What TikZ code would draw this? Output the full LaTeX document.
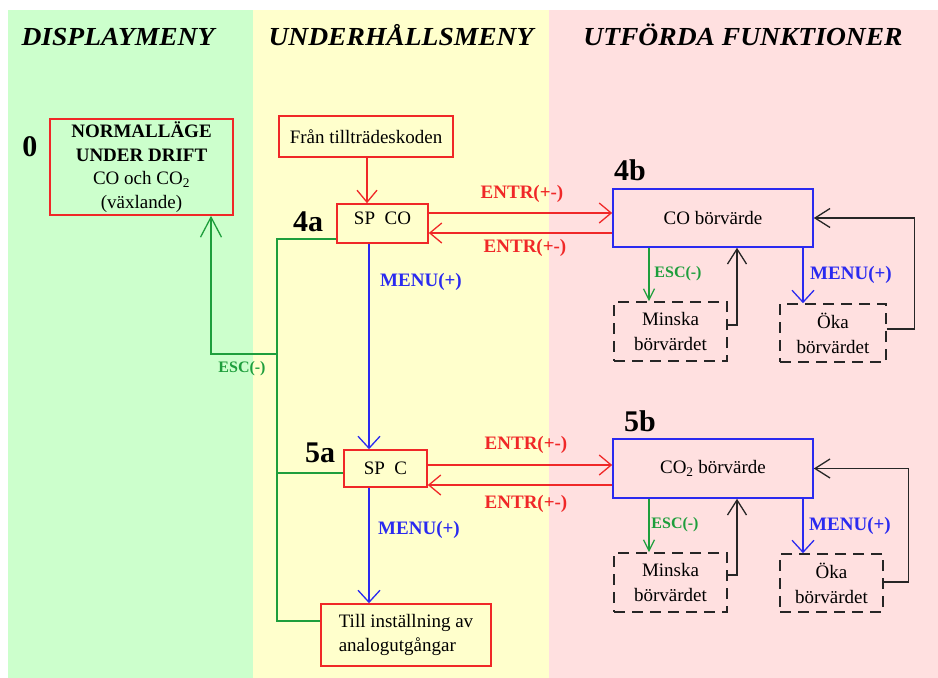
\documentclass[tikz,border=0pt]{standalone}
\usepackage{fontspec}
\setmainfont{Liberation Serif}
\usepackage{xcolor}
\usepackage{graphicx}
\usepackage{tikz}
\usetikzlibrary{arrows.meta}
\definecolor{fondoverde}{HTML}{CCFFCC}
\definecolor{fondoamarillo}{HTML}{FFFFCC}
\definecolor{fondorosa}{HTML}{FFE0E0}
\definecolor{rojo}{HTML}{F02828}
\definecolor{azul}{HTML}{2A2AF0}
\definecolor{verde}{HTML}{1E9E3C}
\newcommand{\titulo}[1]{\scalebox{1.06}[1]{\fontsize{26}{28}\selectfont\bfseries\itshape #1}}

\begin{document}
\begin{tikzpicture}[x=1pt,y=-1pt,
   caja/.style={draw=rojo,line width=1.6pt,inner sep=0pt,align=center,font=\fontsize{19}{24}\selectfont},
   cajaazul/.style={draw=azul,line width=1.6pt,inner sep=0pt,font=\fontsize{19}{24}\selectfont},
   cajatrazos/.style={draw=black!85,line width=1.6pt,dash pattern=on 11pt off 7pt,inner sep=0pt,align=center,font=\fontsize{19}{25}\selectfont},
   numero/.style={font=\fontsize{30}{30}\selectfont\bfseries},
   etiq/.style={font=\fontsize{19}{19}\selectfont\bfseries},
   etiqesc/.style={text=verde,font=\fontsize{16}{16}\selectfont\bfseries},
   flecharoja/.style={draw=rojo,line width=1.3pt,-{Straight Barb[length=12pt,width=20pt]}},
   flechaazul/.style={draw=azul,line width=1.3pt,-{Straight Barb[length=12pt,width=22pt]}},
   flechanegra/.style={draw=black!85,line width=1.3pt,-{Straight Barb[length=15pt,width=19pt]}},
   flechaverde/.style={draw=verde,line width=1.3pt,-{Straight Barb[length=11pt,width=11pt]}},
   lineaverde/.style={draw=verde,line width=1.3pt}]
   \useasboundingbox (0,0) rectangle (938,678);
   %fondos
   \fill[fondoverde] (8,10) rectangle (253,678);
   \fill[fondoamarillo] (253,10) rectangle (549,678);
   \fill[fondorosa] (549,10) rectangle (938,678);
   %titulos
   \node[anchor=base] (tdisp) at (118,45) {\titulo{DISPLAYMENY}};
   \node[anchor=base] (tunder) at (401,45) {\titulo{UNDERHÅLLSMENY}};
   \node[anchor=base] (tutf) at (743,45) {\titulo{UTFÖRDA FUNKTIONER}};
   %cajas
   \node[caja,minimum width=183pt,minimum height=96pt,font=\fontsize{19}{23.5}\selectfont] (normal) at (141.5,167)
      {\textbf{NORMALLÄGE}\\\textbf{UNDER DRIFT}\\CO och CO\textsubscript{2}\\(växlande)};
   \node[caja,minimum width=174pt,minimum height=41pt] (fran) at (366,136.5) {Från tillträdeskoden};
   \node[caja,minimum width=91pt,minimum height=39pt,text depth=10pt] (spco) at (382.5,223.5) {SP\ \ CO};
   \node[caja,minimum width=83pt,minimum height=37pt] (spc) at (385.5,468.5) {SP\ \ C};
   \node[caja,minimum width=170pt,minimum height=62pt,align=left] (till) at (406,635) {Till inställning av\\analogutgångar};
   \node[cajaazul,minimum width=200pt,minimum height=58pt] (bor4) at (713,218) {CO börvärde};
   \node[cajaazul,minimum width=200pt,minimum height=59pt] (bor5) at (713,468.5) {CO\textsubscript{2} börvärde};
   \node[cajatrazos,minimum width=113pt,minimum height=59pt] (minska4) at (670.5,331.5) {Minska\\börvärdet};
   \node[cajatrazos,minimum width=106pt,minimum height=58pt] (oka4) at (833,333) {Öka\\börvärdet};
   \node[cajatrazos,minimum width=113pt,minimum height=59pt] (minska5) at (670.5,582.5) {Minska\\börvärdet};
   \node[cajatrazos,minimum width=103pt,minimum height=58pt] (oka5) at (831.5,583) {Öka\\börvärdet};
   %numeros
   \node[numero] (n0) at (30,147) {0};
   \node[numero] (n4a) at (308,222) {4a};
   \node[numero] (n5a) at (320,453) {5a};
   \node[numero] (n4b) at (630,170) {4b};
   \node[numero] (n5b) at (640,421) {5b};
   %flechas rojas
   \draw[flecharoja] (fran.south -| 367,0) -- (spco.north -| 367,0);
   \draw[flecharoja] (spco.east |- 0,213) -- (bor4.west |- 0,213);
   \draw[flecharoja] (bor4.west |- 0,233) -- (spco.east |- 0,233);
   \draw[flecharoja] (spc.east |- 0,465) -- (bor5.west |- 0,465);
   \draw[flecharoja] (bor5.west |- 0,485) -- (spc.east |- 0,485);
   \node[etiq,text=rojo] (entr1) at (522,194) {ENTR(+-)};
   \node[etiq,text=rojo] (entr2) at (525,248) {ENTR(+-)};
   \node[etiq,text=rojo] (entr3) at (526,445) {ENTR(+-)};
   \node[etiq,text=rojo] (entr4) at (526,504) {ENTR(+-)};
   %flechas azules
   \draw[flechaazul] (spco.south -| 369,0) -- (spc.north -| 369,0);
   \draw[flechaazul] (spc.south -| 369,0) -- (till.north -| 369,0);
   \draw[flechaazul] (bor4.south -| 803,0) -- (oka4.north -| 803,0);
   \draw[flechaazul] (bor5.south -| 803,0) -- (oka5.north -| 803,0);
   \node[etiq,text=azul] (menu1) at (421,282) {MENU(+)};
   \node[etiq,text=azul] (menu2) at (419,530) {MENU(+)};
   \node[etiq,text=azul] (menu3) at (851,275) {MENU(+)};
   \node[etiq,text=azul] (menu4) at (850,526) {MENU(+)};
   %flechas verdes
   \draw[flechaverde] (bor4.south -| 649,0) -- (minska4.north -| 649,0);
   \draw[flechaverde] (bor5.south -| 649,0) -- (minska5.north -| 649,0);
   \node[etiqesc] (esc1) at (678,274) {ESC(-)};
   \node[etiqesc] (esc2) at (675,525) {ESC(-)};
   \coordinate (arriba) at (277,239);
   \coordinate (abajo) at (277,621);
   \coordinate (bus) at (277,354);
   \draw[lineaverde] (spco.west |- arriba) -- (arriba) -- (abajo) -- (till.west |- abajo);
   \draw[lineaverde] (spc.west |- 0,473) -- (arriba |- 0,473);
   \draw[lineaverde,-{Straight Barb[length=20pt,width=21pt]}] (bus) -| (normal.south -| 211,0);
   \node[etiqesc] (esc0) at (242,369) {ESC(-)};
   %flechas negras
   \draw[flechanegra] (minska4.east |- 0,325) -| (bor4.south -| 737,0);
   \draw[flechanegra] (oka4.east |- 0,329) -- ++(28,0) |- (bor4.east);
   \draw[flechanegra] (minska5.east |- 0,575) -| (bor5.south -| 737,0);
   \draw[flechanegra] (oka5.east |- 0,582) -- ++(25,0) |- (bor5.east);
\end{tikzpicture}
\end{document}
